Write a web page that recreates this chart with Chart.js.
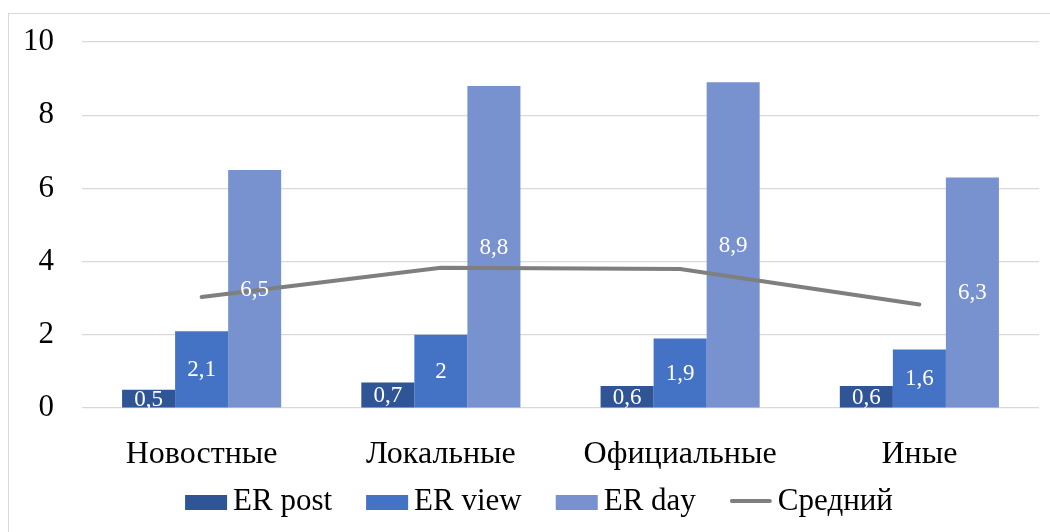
<!DOCTYPE html>
<html>
<head>
<meta charset="utf-8">
<script src="https://cdn.jsdelivr.net/npm/chart.js@4/dist/chart.umd.min.js"></script>
<style>
  html, body { margin: 0; padding: 0; background: #fff; overflow: hidden; }
  .frame {
    position: absolute; left: 8px; top: 13px; width: 1100px; height: 600px;
    border: 1.5px solid #d9d9d9; box-sizing: border-box;
  }
  .wrap { position: absolute; left: 0; top: 0; width: 1050px; height: 532px; }
</style>
</head>
<body>
<div class="frame"></div>
<div class="wrap"><canvas id="chart"></canvas></div>
<script>
const FONT = '"Liberation Serif", "Times New Roman", serif'

const categories = ['Новостные', 'Локальные', 'Официальные', 'Иные']
const erPost = [0.5, 0.7, 0.6, 0.6]
const erView = [2.1, 2, 1.9, 1.6]
const erDay = [6.5, 8.8, 8.9, 6.3]
const average = [3.03, 3.83, 3.8, 2.83]
const yTicks = [0, 2, 4, 6, 8, 10]

const COLORS = {
  post: '#2f5597',
  view: '#4472c4',
  day:  '#7891cf',
  avg:  '#7f7f7f',
}

function fmt(v) {
  return String(v).replace('.', ',')
}

// white value labels in the middle of each bar, clipped to the plot area
const barLabels = {
  id: 'barLabels',
  afterDatasetsDraw(chart) {
    const ctx = chart.ctx
    const area = chart.chartArea
    ctx.save()
    ctx.beginPath()
    ctx.rect(area.left, area.top, area.right - area.left, area.bottom - area.top)
    ctx.clip()
    ctx.font = '23px ' + FONT
    ctx.fillStyle = '#ffffff'
    ctx.textAlign = 'center'
    ctx.textBaseline = 'middle'
    chart.data.datasets.forEach((ds, i) => {
      if (ds.type === 'line') return
      const meta = chart.getDatasetMeta(i)
      meta.data.forEach((bar, j) => {
        const p = bar.getProps(['x', 'y', 'base'], true)
        ctx.fillText(fmt(ds.data[j]), p.x, (p.y + p.base) / 2 + 1)
      })
    })
    ctx.restore()
  },
}

// legend with tight box-to-text spacing
const bottomLegend = {
  id: 'bottomLegend',
  afterDraw(chart) {
    const ctx = chart.ctx
    const boxW = 42, boxH = 15, gap = 6, itemGap = 34
    ctx.save()
    ctx.font = '31px ' + FONT
    const items = chart.data.datasets.map(ds => ({
      text: ds.label,
      color: ds.type === 'line' ? ds.borderColor : ds.backgroundColor,
      line: ds.type === 'line',
      w: ctx.measureText(ds.label).width,
    }))
    const total = items.reduce((s, it) => s + boxW + gap + it.w, 0) + itemGap * (items.length - 1)
    let x = 539 - total / 2
    const baseY = 510
    items.forEach(it => {
      if (it.line) {
        ctx.strokeStyle = it.color
        ctx.lineWidth = 4
        ctx.lineCap = 'round'
        ctx.beginPath()
        ctx.moveTo(x + 2, 501)
        ctx.lineTo(x + boxW - 2, 501)
        ctx.stroke()
      } else {
        ctx.fillStyle = it.color
        ctx.fillRect(x, 495, boxW, boxH)
      }
      x += boxW + gap
      ctx.fillStyle = '#000'
      ctx.textBaseline = 'alphabetic'
      ctx.fillText(it.text, x, baseY)
      x += it.w + itemGap
    })
    ctx.restore()
  },
}

new Chart(document.getElementById('chart'), {
  data: {
    labels: categories,
    datasets: [
      { type: 'bar', label: 'ER post', data: erPost, backgroundColor: COLORS.post, order: 1 },
      { type: 'bar', label: 'ER view', data: erView, backgroundColor: COLORS.view, order: 1 },
      { type: 'bar', label: 'ER day', data: erDay, backgroundColor: COLORS.day, order: 1 },
      { type: 'line', label: 'Средний', data: average, borderColor: COLORS.avg, backgroundColor: COLORS.avg,
        borderWidth: 4, pointRadius: 0, tension: 0, borderCapStyle: 'round', order: 0 },
    ],
  },
  options: {
    animation: false,
    responsive: true,
    maintainAspectRatio: false,
    layout: { padding: { top: 42, right: 11, bottom: 0, left: 0 } },
    datasets: { bar: { categoryPercentage: 0.665, barPercentage: 1 } },
    plugins: { legend: { display: false }, tooltip: { enabled: false } },
    scales: {
      x: {
        grid: { display: false },
        border: { display: false },
        ticks: { color: '#000', font: { size: 32, family: FONT }, padding: 19, maxRotation: 0 },
        afterFit: s => { s.height = 124 },
      },
      y: {
        min: 0,
        max: 10,
        afterBuildTicks: s => { s.ticks = yTicks.map(v => ({ value: v })) },
        grid: { color: '#d9d9d9', lineWidth: 1.2, drawTicks: false },
        border: { display: false },
        ticks: { color: '#000', font: { size: 31, family: FONT, lineHeight: 0.8 }, padding: 28 },
        afterFit: s => { s.width = 82 },
      },
    },
  },
  plugins: [barLabels, bottomLegend],
})
</script>
</body>
</html>
